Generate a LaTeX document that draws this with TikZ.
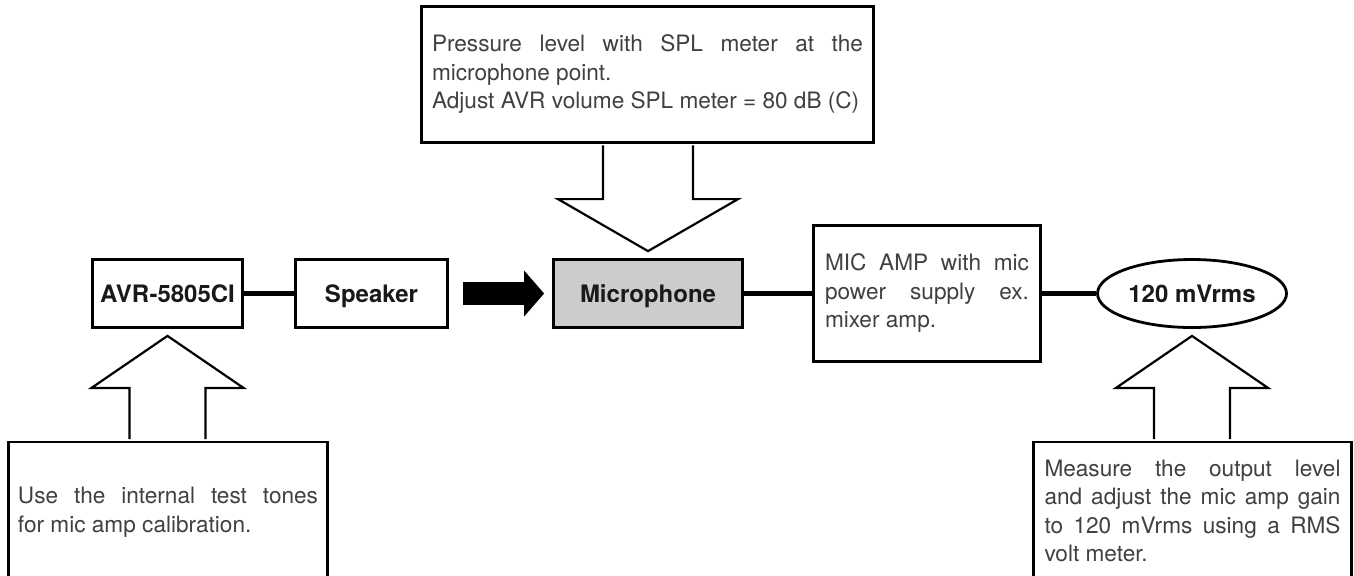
\documentclass[tikz,border=0pt]{standalone}
\usepackage{fontspec}
\setmainfont{TeX Gyre Heros}
\usetikzlibrary{arrows.meta}
\usetikzlibrary{calc}
\usetikzlibrary{shapes.geometric}
\def\micFillColor{gray!40}
\newcommand{\hollowarrow}[4]{%
  \fill[white] let \p1=(#2), \p2=(#1), \n1={sign(\y2-\y1)} in
    ({\x1-#3},{\y2-\n1*1pt}) -- ({\x1-#3},{\y1+\n1*29.5pt}) -- ({\x1-#4},{\y1+\n1*29.5pt})
    -- (\x1,{\y1+\n1*3.5pt}) -- ({\x1+#4},{\y1+\n1*29.5pt}) -- ({\x1+#3},{\y1+\n1*29.5pt})
    -- ({\x1+#3},{\y2-\n1*1pt}) -- cycle;
  \draw[hollow arrow] let \p1=(#2), \p2=(#1), \n1={sign(\y2-\y1)} in
    ({\x1-#3},{\y2-\n1*0.7pt}) -- ({\x1-#3},{\y1+\n1*29.5pt}) -- ({\x1-#4},{\y1+\n1*29.5pt})
    -- (\x1,{\y1+\n1*3.5pt}) -- ({\x1+#4},{\y1+\n1*29.5pt}) -- ({\x1+#3},{\y1+\n1*29.5pt})
    -- ({\x1+#3},{\y2-\n1*0.7pt});
}
\tikzset{
unit box/.style={draw, line width=1.4pt, minimum height=34pt, inner sep=0pt, text height=8.6pt, text depth=0pt,
  font=\bfseries\fontsize{12}{14}\selectfont, text=black!90},
note box/.style={draw, line width=1.4pt, fill=white, align=justify, font=\fontsize{11.3}{14.25}\selectfont, text=black!75},
wire/.style={line width=2.5pt},
sound arrow/.style={line width=11.5pt, -{Triangle[length=10pt,width=23pt,line width=0pt]}, shorten <=7pt, shorten >=4pt},
hollow arrow/.style={line width=1.1pt, line join=miter},
}
\begin{document}
\begin{tikzpicture}[x=0.5pt,y=-0.5pt]
    \useasboundingbox (0,0) rectangle (1354,575);
    \clip (0,0) rectangle (1354,575);
    % signal chain
    \foreach \nm/\x/\w/\col/\txt in {avr/167.5/75/white/AVR-5805CI, spk/371.5/76/white/Speaker, mic/648/94.5/\micFillColor/Microphone} {
        \node[unit box, minimum width=\w pt, fill=\col] (\nm) at (\x,293.5) {\txt};
    }
    \node[note box, text width=102pt, inner xsep=5.75pt, minimum height=68pt] (amp) at (927,293.5)
        {MIC AMP with mic\linebreak power supply ex.\linebreak mixer amp.};
    \node[unit box, ellipse, minimum width=94.5pt, minimum height=34pt] (vrms) at (1192,293.5) {120 mVrms};
    % notes
    \node[note box, text width=215.5pt, inner xsep=5.25pt, minimum height=68pt] (topnote) at (647.5,74.5)
        {Pressure level with SPL meter at the\linebreak microphone point.\\ Adjust AVR volume SPL meter = 80 dB (C)};
    \node[note box, text width=150pt, inner xsep=4.75pt, minimum height=70pt] (lnote) at (168,512)
        {Use the internal test tones\linebreak for mic amp calibration.};
    \node[note box, text width=148pt, inner xsep=5.5pt, minimum height=69pt] (rnote) at (1192.5,511)
        {Measure the output level\linebreak and adjust the mic amp gain\linebreak to 120 mVrms using a RMS\linebreak volt meter.};
    \draw[wire] (avr) -- (spk);
    \draw[wire] (mic) -- (amp);
    \draw[wire] (amp) -- (vrms);
    \draw[sound arrow] (spk) -- (mic);
    \hollowarrow{lnote.north}{avr.south}{19pt}{38pt}
    \hollowarrow{topnote.south}{mic.north}{22.5pt}{45pt}
    \hollowarrow{rnote.north}{vrms.south}{19pt}{38pt}
\end{tikzpicture}
\end{document}
